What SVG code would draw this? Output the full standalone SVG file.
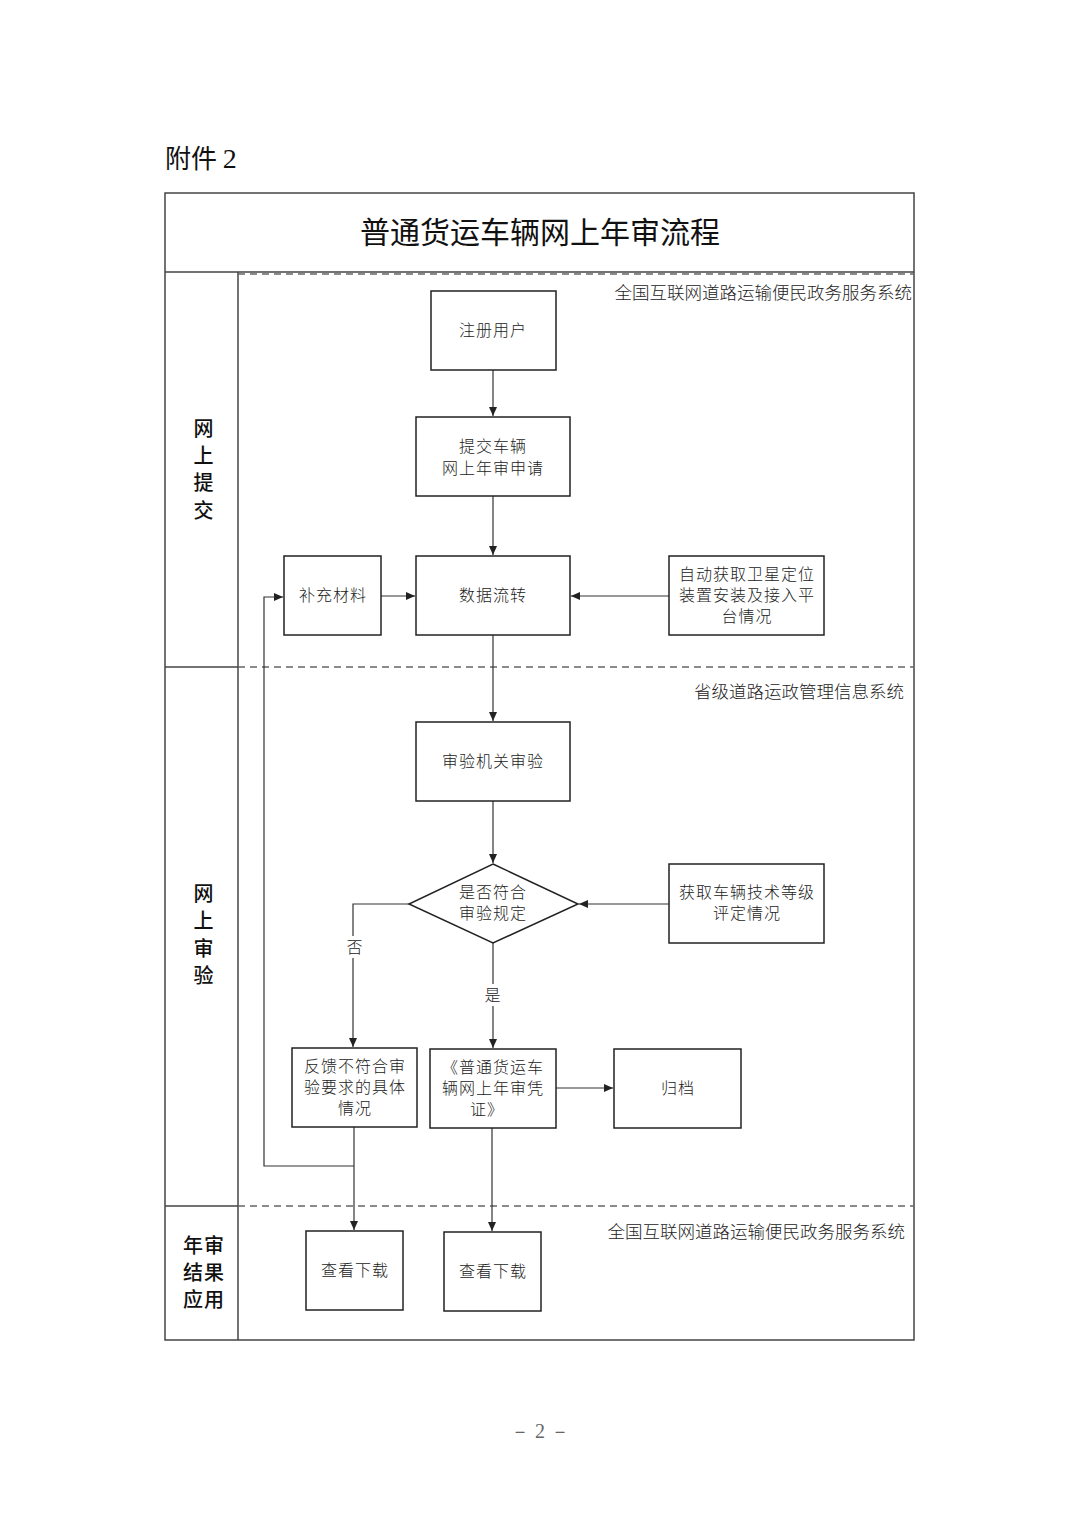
<svg xmlns="http://www.w3.org/2000/svg" width="1080" height="1527" viewBox="0 0 1080 1527">
<defs>
<marker id="ah" markerWidth="10" markerHeight="10" refX="9" refY="5" orient="auto" markerUnits="userSpaceOnUse">
<path d="M0,1 L9,5 L0,9 z" fill="#222"/>
</marker>
<style>
.frame{fill:none;stroke:#444;stroke-width:1.5}
.dash{fill:none;stroke:#666;stroke-width:1.5;stroke-dasharray:7,5}
.box{fill:#fff;stroke:#222;stroke-width:1.5}
.ca{fill:none;stroke:#333;stroke-width:1.2;marker-end:url(#ah)}
.t{font-family:"Noto Sans CJK SC","Liberation Serif",sans-serif;font-size:16px;letter-spacing:1px;fill:#222;text-anchor:middle;font-weight:300}
.sys{font-family:"Noto Sans CJK SC","Liberation Serif",sans-serif;font-size:17.5px;fill:#222;text-anchor:end;font-weight:300}
.lane{font-family:"Noto Sans CJK SC",sans-serif;font-size:20px;letter-spacing:1px;fill:#111;text-anchor:middle;font-weight:500}
.title{font-family:"Noto Sans CJK SC",sans-serif;font-size:30px;fill:#111;text-anchor:middle}
</style>
</defs>
<rect width="1080" height="1527" fill="#fff"/>
<text x="165" y="168" style="font-family:'Noto Sans CJK SC','Liberation Serif',serif;font-size:26px;fill:#111">附件 <tspan style="font-family:'Liberation Serif',serif;font-size:28px">2</tspan></text>

<g id="frame">
<rect class="frame" x="165" y="193" width="749" height="1147"/>
<line class="frame" x1="165" y1="272" x2="914" y2="272"/>
<line class="frame" x1="238" y1="272" x2="238" y2="1340"/>
<line class="frame" x1="165" y1="667" x2="238" y2="667"/>
<line class="frame" x1="165" y1="1206" x2="238" y2="1206"/>
<line class="dash" x1="238" y1="274" x2="914" y2="274"/>
<line class="dash" x1="238" y1="667" x2="914" y2="667"/>
<line class="dash" x1="238" y1="1206" x2="914" y2="1206"/>
<text class="title" x="540" y="243">普通货运车辆网上年审流程</text>
<text class="sys" x="912" y="299">全国互联网道路运输便民政务服务系统</text>
<text class="sys" x="904" y="698">省级道路运政管理信息系统</text>
<text class="sys" x="905" y="1238">全国互联网道路运输便民政务服务系统</text>
</g>

<g id="lanes">
<text class="lane" x="204" y="436">网</text>
<text class="lane" x="204" y="463">上</text>
<text class="lane" x="204" y="490">提</text>
<text class="lane" x="204" y="518">交</text>
<text class="lane" x="204" y="901">网</text>
<text class="lane" x="204" y="928">上</text>
<text class="lane" x="204" y="956">审</text>
<text class="lane" x="204" y="983">验</text>
<text class="lane" x="204" y="1253">年审</text>
<text class="lane" x="204" y="1280">结果</text>
<text class="lane" x="204" y="1307">应用</text>
</g>

<g id="connectors">
<line class="ca" x1="493" y1="370" x2="493" y2="416"/>
<line class="ca" x1="493" y1="496" x2="493" y2="555"/>
<line class="ca" x1="381" y1="596" x2="415" y2="596"/>
<line class="ca" x1="669" y1="596" x2="571" y2="596"/>
<line class="ca" x1="493" y1="635" x2="493" y2="721"/>
<line class="ca" x1="493" y1="801" x2="493" y2="863"/>
<line class="ca" x1="669" y1="904" x2="579" y2="904"/>
<polyline class="ca" points="409,904 353,904 353,1047"/>
<line class="ca" x1="493" y1="943" x2="493" y2="1048"/>
<line class="ca" x1="556" y1="1088" x2="613" y2="1088"/>
<line class="ca" x1="354" y1="1127" x2="354" y2="1230"/>
<polyline class="ca" points="354,1166 264,1166 264,597 283,597"/>
<line class="ca" x1="492" y1="1128" x2="492" y2="1231"/>
<rect x="345" y="936" width="18" height="22" fill="#fff"/>
<text class="t" x="355" y="953">否</text>
<rect x="484" y="984" width="18" height="22" fill="#fff"/>
<text class="t" x="493" y="1001">是</text>
</g>

<g id="n1"><rect class="box" x="431" y="291" width="125" height="79"/><text class="t" x="493" y="336">注册用户</text></g>
<g id="n2"><rect class="box" x="416" y="417" width="154" height="79"/><text class="t" x="493" y="452"><tspan x="493">提交车辆</tspan><tspan x="493" dy="22">网上年审申请</tspan></text></g>
<g id="n3"><rect class="box" x="416" y="556" width="154" height="79"/><text class="t" x="493" y="601">数据流转</text></g>
<g id="n4"><rect class="box" x="284" y="556" width="97" height="79"/><text class="t" x="333" y="601">补充材料</text></g>
<g id="n5"><rect class="box" x="669" y="556" width="155" height="79"/><text class="t" x="747" y="580"><tspan x="747">自动获取卫星定位</tspan><tspan x="747" dy="21">装置安装及接入平</tspan><tspan x="747" dy="21">台情况</tspan></text></g>
<g id="n6"><rect class="box" x="416" y="722" width="154" height="79"/><text class="t" x="493" y="767">审验机关审验</text></g>
<g id="n7"><polygon class="box" points="493,864 578,904 493,943 409,904"/><text class="t" x="493" y="898"><tspan x="493">是否符合</tspan><tspan x="493" dy="21">审验规定</tspan></text></g>
<g id="n8"><rect class="box" x="669" y="864" width="155" height="79"/><text class="t" x="747" y="898"><tspan x="747">获取车辆技术等级</tspan><tspan x="747" dy="21">评定情况</tspan></text></g>
<g id="n9"><rect class="box" x="292" y="1048" width="125" height="79"/><text class="t" x="355" y="1072"><tspan x="355">反馈不符合审</tspan><tspan x="355" dy="21">验要求的具体</tspan><tspan x="355" dy="21">情况</tspan></text></g>
<g id="n10"><rect class="box" x="430" y="1049" width="126" height="79"/><text class="t" x="493" y="1073"><tspan x="493">《普通货运车</tspan><tspan x="493" dy="21">辆网上年审凭</tspan><tspan x="487" dy="21">证》</tspan></text></g>
<g id="n11"><rect class="box" x="614" y="1049" width="127" height="79"/><text class="t" x="678" y="1094">归档</text></g>
<g id="n12"><rect class="box" x="306" y="1231" width="97" height="79"/><text class="t" x="355" y="1276">查看下载</text></g>
<g id="n13"><rect class="box" x="444" y="1232" width="97" height="79"/><text class="t" x="493" y="1277">查看下载</text></g>

<text x="540" y="1438" style="font-family:'Liberation Serif',serif;font-size:20px;fill:#666;text-anchor:middle">－ 2 －</text>
</svg>
